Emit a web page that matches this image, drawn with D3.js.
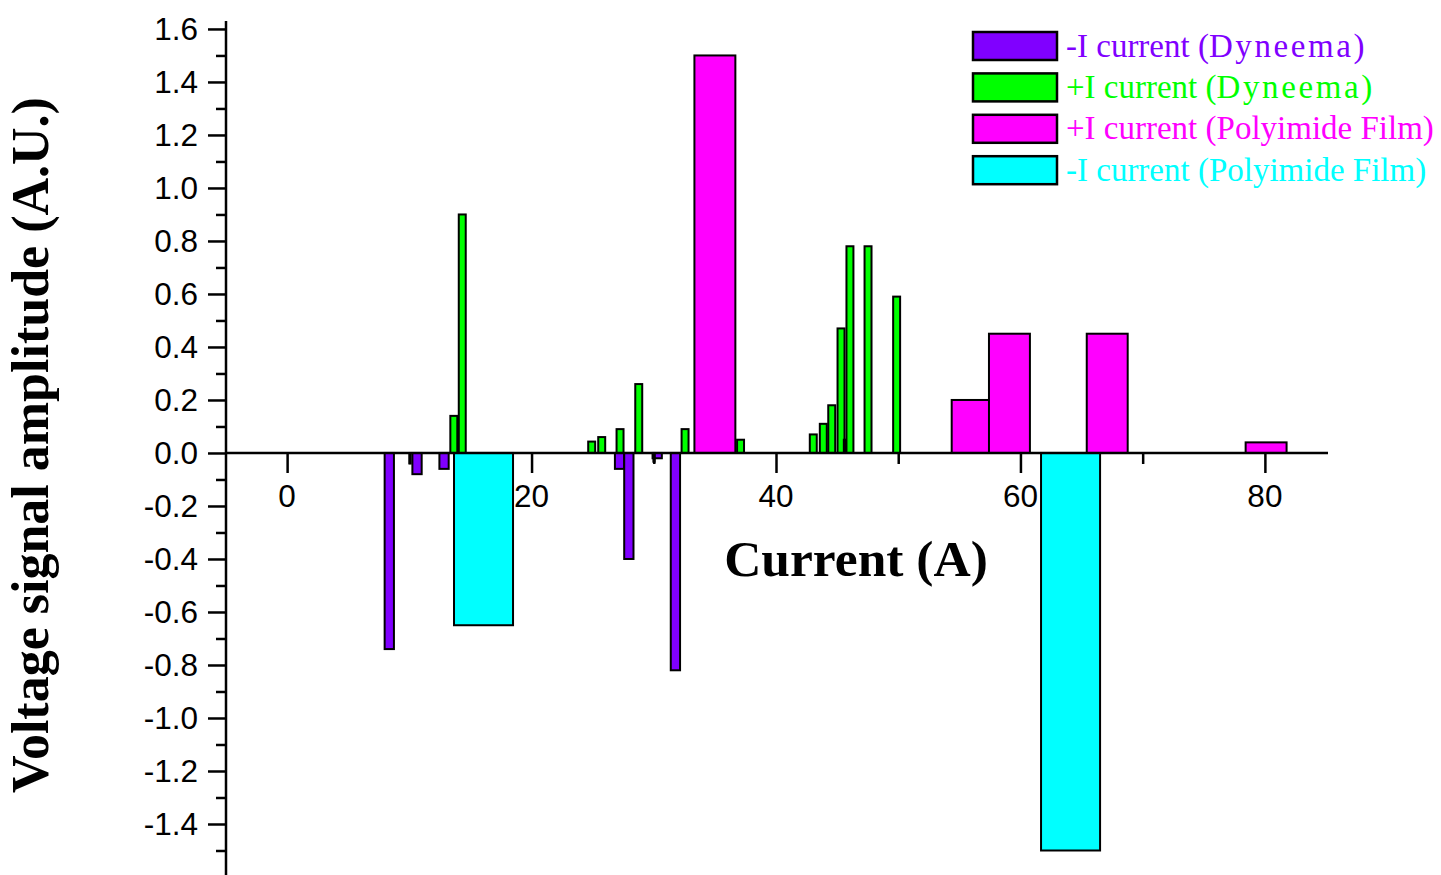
<!DOCTYPE html>
<html>
<head>
<meta charset="utf-8">
<script src="https://cdn.jsdelivr.net/npm/d3@7"></script>
<style>
  html, body { margin: 0; padding: 0; background: #fff; }
  svg { display: block; }
</style>
</head>
<body>
<svg id="chart" width="1441" height="875"></svg>
<script>
// ---- Data ----
const seriesNames = [
  "-I current (Dyneema)",
  "+I current (Dyneema)",
  "+I current (Polyimide Film)",
  "-I current (Polyimide Film)"
];
// -I current (Dyneema): [current, amplitude]
const dyneemaMinus = [
  [8.36, -0.74], [10.63, -0.08], [12.84, -0.06], [27.2, -0.06],
  [27.96, -0.40], [30.28, -0.02], [31.77, -0.82]
];
const dyneemaMinusThin = [[10.06, -0.04], [30.02, -0.033]];
// +I current (Dyneema)
const dyneemaPlus = [
  [13.64, 0.14], [14.33, 0.90], [24.92, 0.043], [25.74, 0.06],
  [27.24, 0.09], [28.77, 0.26], [32.56, 0.09], [37.10, 0.05],
  [43.05, 0.07], [43.87, 0.11], [44.56, 0.18], [45.32, 0.47],
  [46.05, 0.78], [47.53, 0.78], [49.87, 0.59]
];
const dyneemaPlusThin = [[45.6, 0.05]];
// +I current (Polyimide Film)
const polyPlus = [
  [35.0, 1.50], [56.05, 0.20], [59.1, 0.45], [67.1, 0.45], [80.1, 0.04]
];
// -I current (Polyimide Film)
const polyMinus = [[16.07, -0.65], [64.1, -1.50]];

const xTickValues = [0, 20, 40, 60, 80];
const xMinorValues = [10, 30, 50, 70];
const yTickValues = [-1.4, -1.2, -1.0, -0.8, -0.6, -0.4, -0.2, 0.0, 0.2, 0.4, 0.6, 0.8, 1.0, 1.2, 1.4, 1.6];
const yMinorValues = [-1.5, -1.3, -1.1, -0.9, -0.7, -0.5, -0.3, -0.1, 0.1, 0.3, 0.5, 0.7, 0.9, 1.1, 1.3, 1.5];

// ---- Styling / layout ----
const colors = ["#8000ff", "#00ff00", "#ff00ff", "#00ffff"];
const svg = d3.select("#chart");
const x = d3.scaleLinear().domain([-5, 85]).range([226, 1326]);
const y = d3.scaleLinear().domain([-1.6, 1.63]).range([877, 21]);
const sansFont = "'Liberation Sans', Arial, Helvetica, sans-serif";
const serifFont = "'Liberation Serif', 'Times New Roman', serif";

// tick labels (drawn first so bars may cover them as in the original)
const gLabels = svg.append("g");
gLabels.selectAll("text.ylab").data(yTickValues).join("text")
  .attr("class", "ylab")
  .attr("x", 198).attr("y", d => y(d)).attr("dy", "0.36em")
  .attr("text-anchor", "end")
  .style("font-family", sansFont).style("font-size", "31.5px")
  .text(d => d.toFixed(1));
gLabels.selectAll("text.xlab").data(xTickValues).join("text")
  .attr("class", "xlab")
  .attr("x", d => x(d)).attr("y", 507)
  .attr("text-anchor", "middle")
  .style("font-family", sansFont).style("font-size", "31.5px")
  .text(d => String(d));

// bars
function drawBars(data, color, widthUnits, cls) {
  svg.append("g").selectAll("rect").data(data).join("rect")
    .attr("class", cls)
    .attr("x", d => x(d[0] - widthUnits / 2))
    .attr("width", d => x(d[0] + widthUnits / 2) - x(d[0] - widthUnits / 2))
    .attr("y", d => Math.min(y(d[1]), y(0)))
    .attr("height", d => Math.abs(y(d[1]) - y(0)))
    .attr("fill", color)
    .attr("stroke", "#000")
    .attr("stroke-width", 2);
}
drawBars(dyneemaMinus, colors[0], 0.76, "b0");
drawBars(dyneemaMinusThin, colors[0], 0.1, "b0t");
drawBars(polyMinus, colors[3], 4.83, "b3");
drawBars(polyPlus, colors[2], 3.35, "b2");
drawBars(dyneemaPlus, colors[1], 0.57, "b1");
drawBars(dyneemaPlusThin, colors[1], 0.1, "b1t");

// axes
const yAxis = d3.axisLeft(y).tickValues(yTickValues).tickSize(18).tickFormat("");
const yMinor = d3.axisLeft(y).tickValues(yMinorValues).tickSize(10).tickFormat("");
const xAxis = d3.axisBottom(x).tickValues(xTickValues).tickSize(20).tickFormat("");
const xMinor = d3.axisBottom(x).tickValues(xMinorValues).tickSize(11).tickFormat("");

const gy = svg.append("g").attr("transform", "translate(226,0)").call(yAxis);
const gym = svg.append("g").attr("transform", "translate(226,0)").call(yMinor);
const gx = svg.append("g").attr("transform", `translate(0,${y(0)})`).call(xAxis);
const gxm = svg.append("g").attr("transform", `translate(0,${y(0)})`).call(xMinor);
[gy, gym, gx, gxm].forEach(g => {
  g.select(".domain").remove();
  g.selectAll(".tick line").attr("stroke", "#000").attr("stroke-width", 2.5);
});
// axis lines
svg.append("line").attr("x1", 226).attr("x2", 226).attr("y1", y(1.63)).attr("y2", 875)
  .attr("stroke", "#000").attr("stroke-width", 2.5);
svg.append("line").attr("x1", 226).attr("x2", 1328).attr("y1", y(0)).attr("y2", y(0))
  .attr("stroke", "#000").attr("stroke-width", 2.5);

// axis titles
svg.append("text")
  .attr("x", 856).attr("y", 576)
  .attr("text-anchor", "middle")
  .style("font-family", serifFont).style("font-weight", "bold").style("font-size", "51.5px")
  .text("Current (A)");
svg.append("text")
  .attr("transform", "translate(48,445) rotate(-90)")
  .attr("text-anchor", "middle")
  .style("font-family", serifFont).style("font-weight", "bold").style("font-size", "52px")
  .text("Voltage signal amplitude (A.U.)");

// legend
const legend = svg.append("g");
const legendRows = seriesNames.map((name, i) => ({ name, color: colors[i], i }));
legend.selectAll("rect").data(legendRows).join("rect")
  .attr("x", 973).attr("y", d => 32 + d.i * 41.4)
  .attr("width", 84).attr("height", 28)
  .attr("fill", d => d.color).attr("stroke", "#000").attr("stroke-width", 2.5);
const legendTexts = legend.selectAll("text").data(legendRows).join("text")
  .attr("x", 1066).attr("y", d => 45 + d.i * 41.4).attr("dy", "0.35em")
  .attr("fill", d => d.color)
  .style("font-family", serifFont).style("font-size", "33px");
legendTexts.each(function(d) {
  const t = d3.select(this);
  const m = d.name.match(/^(.*\()(Dyneema)(\))$/);
  if (m) {
    t.append("tspan").text(m[1]);
    t.append("tspan").style("letter-spacing", "2.6px").text(m[2]);
    t.append("tspan").text(m[3]);
  } else {
    t.text(d.name);
  }
});
</script>
</body>
</html>
